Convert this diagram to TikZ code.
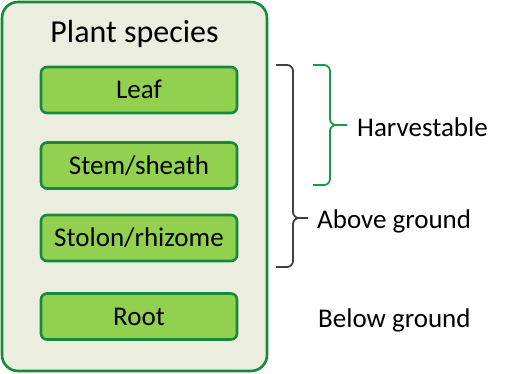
\documentclass[tikz,border=0pt]{standalone}
\usepackage{fontspec}
\setmainfont{Carlito}
\usetikzlibrary{positioning}

\definecolor{panelfill}{HTML}{EBEEDF}
\definecolor{darkgreen}{HTML}{17893C}
\definecolor{leafgreen}{HTML}{92D050}
\definecolor{bracegreen}{HTML}{1A9A48}
\definecolor{bracegray}{HTML}{404040}

\tikzset{
  part/.style={draw=darkgreen, line width=2.6pt, fill=leafgreen, rounded corners=6pt,
    minimum width=196pt, minimum height=46pt, inner sep=0pt,
    text height=17.4pt, text depth=0pt, font=\fontsize{27}{30}\selectfont},
  side/.style={anchor=base west, inner sep=0pt, font=\fontsize{27}{30}\selectfont},
  brace/.style={line width=1.8pt, rounded corners=6pt},
}

\begin{document}
\begin{tikzpicture}[x=1pt,y=-1pt]
\useasboundingbox (0,0) rectangle (525,373);

% species panel
\draw[darkgreen, line width=2.6pt, fill=panelfill, rounded corners=16pt] (2,2) rectangle (267,371);
\node[anchor=base, inner sep=0pt, font=\fontsize{32}{36}\selectfont] (title) at (134.5,42) {Plant species};

% plant parts
\node[part] (leaf) at (139,90) {Leaf};
\node[part] (stem) at (139,165.5) {Stem/sheath};
\node[part] (stolon) at (139,238) {Stolon/rhizome};
\node[part] (root) at (139,316.5) {Root};

% labels
\node[side] (harvest) at (357,136) {Harvestable};
\node[side] (above) at (317,228) {Above ground};
\node[side] (below) at (318,327) {Below ground};

% braces
\coordinate (gtop) at (276,65);
\coordinate (gtip) at (308,218);
\coordinate (gbot) at (276,267);
\draw[brace, bracegray] (gtop) -- (293,65) -- (293,218) -- (gtip);
\draw[brace, bracegray] (gtip) -- (293,218) -- (293,267) -- (gbot);

\coordinate (htop) at (313,65);
\coordinate (htip) at (347,125);
\coordinate (hbot) at (313,185);
\draw[brace, bracegreen] (htop) -- (330,65) -- (330,125) -- (htip);
\draw[brace, bracegreen] (htip) -- (330,125) -- (330,185) -- (hbot);

\end{tikzpicture}
\end{document}
